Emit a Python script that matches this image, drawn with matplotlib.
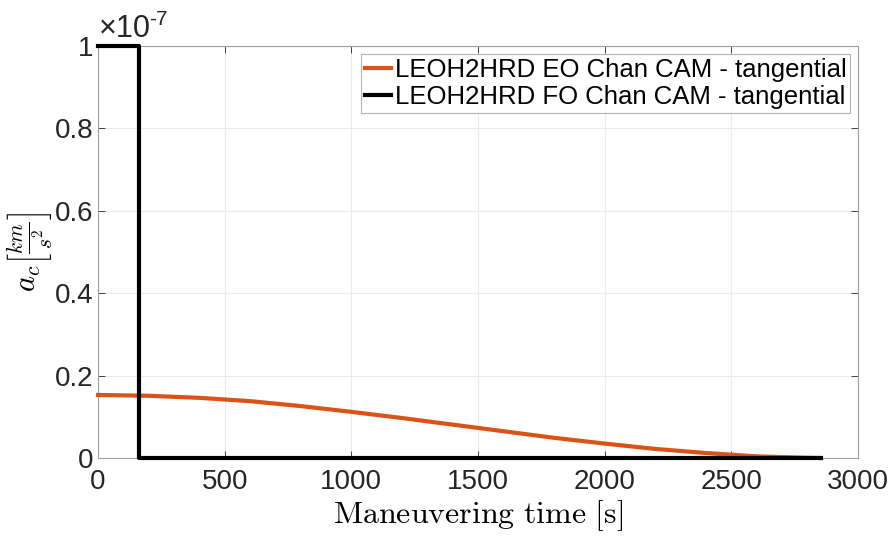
import matplotlib
matplotlib.use('Agg')
import matplotlib.pyplot as plt
from matplotlib.ticker import FuncFormatter

# EO solution, km/s^2
t_eo = [0, 200, 400, 600, 800, 1000, 1200, 1400, 1600, 1800, 2000, 2200, 2400, 2600, 2800, 2853]
a_eo = [1.53e-8, 1.51e-8, 1.46e-8, 1.38e-8, 1.26e-8, 1.12e-8, 0.97e-8, 0.81e-8, 0.65e-8,
        0.49e-8, 0.35e-8, 0.22e-8, 0.12e-8, 0.04e-8, 0.005e-8, 0.0]

# FO solution: bang-off
t_fo = [0, 162, 162, 2853]
a_fo = [1e-7, 1e-7, 0.0, 0.0]

xticks = [0, 500, 1000, 1500, 2000, 2500, 3000]
yticks = [0, 0.2e-7, 0.4e-7, 0.6e-7, 0.8e-7, 1e-7]

plt.rcParams['mathtext.fontset'] = 'cm'
plt.rcParams['font.family'] = ['Liberation Sans', 'DejaVu Sans']

fig = plt.figure(figsize=(8.94, 5.39), dpi=100)
ax = fig.add_axes([0.1096, 0.1503, 0.8501, 0.7644])

ax.plot(t_eo, a_eo, color='#D95319', lw=3, label='LEOH2HRD EO Chan CAM - tangential',
        clip_on=False, zorder=3)
ax.plot(t_fo, a_fo, color='black', lw=3, label='LEOH2HRD FO Chan CAM - tangential',
        clip_on=False, zorder=4)

ax.set_xlim(0, 3000)
ax.set_ylim(0, 1e-7)
ax.set_xticks(xticks)
ax.set_yticks(yticks)
ax.yaxis.set_major_formatter(FuncFormatter(lambda v, p: '%g' % round(v * 1e7, 3)))
ax.tick_params(direction='in', labelsize=20, colors='#262626', length=5, width=0.6,
               top=True, right=True)
ax.tick_params(axis='x', pad=8)
for s in ax.spines.values():
    s.set_color('#a0a0a0')
    s.set_linewidth(0.8)
ax.grid(True, color='#ebebeb', lw=0.8)
ax.set_axisbelow(True)

# exponent label, MATLAB style
ax.annotate('\u00d710', xy=(0.0, 1.0), xycoords='axes fraction', xytext=(1, 6.5),
            textcoords='offset points', fontsize=22, color='#262626',
            ha='left', va='baseline')
ax.annotate('-7', xy=(0.0, 1.0), xycoords='axes fraction', xytext=(37, 15),
            textcoords='offset points', fontsize=15, color='#262626',
            ha='left', va='baseline')

ax.set_xlabel(r'$\mathrm{Maneuvering\ time\ [s]}$', fontsize=23, labelpad=2)
ax.set_ylabel(r'$a_c\left[\frac{km}{s^2}\right]$', fontsize=22, labelpad=0)

leg = ax.legend(loc='upper right', fontsize=18.5, frameon=True, fancybox=False,
                handlelength=1.0, handletextpad=0.15, borderpad=0.15, labelspacing=0.15,
                borderaxespad=0.3)
leg.get_frame().set_edgecolor('#a0a0a0')
leg.get_frame().set_linewidth(0.8)

fig.savefig('out.png', dpi=100)
